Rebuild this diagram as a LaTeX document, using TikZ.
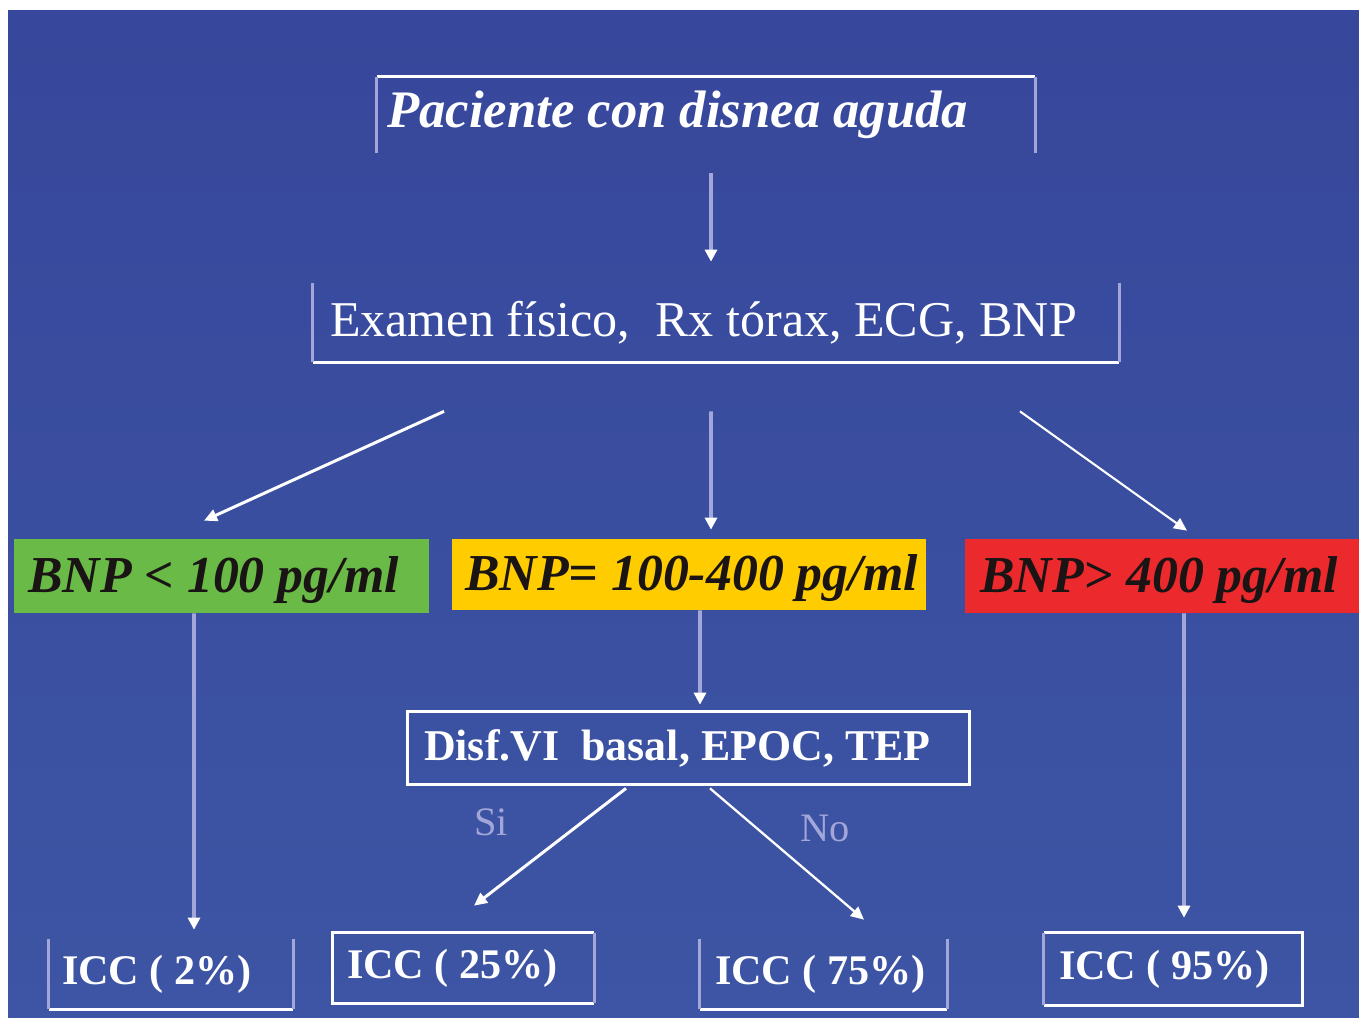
\documentclass[tikz,border=0pt]{standalone}
\usepackage{fontspec}
\setmainfont{Liberation Serif}
\usepackage{xcolor}
\usetikzlibrary{arrows.meta}
\definecolor{bgtop}{HTML}{37479B}
\definecolor{bgbot}{HTML}{3D55A4}
\definecolor{lavender}{HTML}{A3A6D9}
\definecolor{bnpgreen}{HTML}{6ABA47}
\definecolor{bnpyellow}{HTML}{FFCC00}
\definecolor{bnpred}{HTML}{EC2A2E}
\definecolor{darktext}{HTML}{1A1414}
\tikzset{
  box/.style={inner ysep=0pt, text=white},
  bnpbox/.style={box, text=darktext, inner xsep=0.28cm, text height=0.88cm},
  side/.style={draw=lavender, line width=1.6pt},
  edge/.style={draw=white, line width=1.6pt},
  varrow/.style={draw=lavender, line width=2.2pt, -{Triangle[color=white, length=0.24cm, width=0.24cm]}},
  warrow/.style={draw=white, line width=1.7pt, -{Triangle[color=white, length=0.26cm, width=0.24cm]}},
  lbl/.style={text=lavender, font=\fontsize{23}{26}\selectfont},
}
\newcommand{\bnpfont}{\fontsize{29.5}{32}\selectfont\bfseries\itshape}
\newcommand{\iccfont}{\fontsize{24}{28}\selectfont\bfseries}

\begin{document}
\begin{tikzpicture}[x=0.02cm, y=-0.02cm]
\useasboundingbox (0,0) rectangle (1359,1019);
\fill[white] (0,0) rectangle (1359,1019);
\shade[top color=bgtop, bottom color=bgbot] (8,10) rectangle (1359,1017);

\node[box, minimum width=13.16cm, minimum height=1.52cm, inner xsep=0.2cm] (top) at (706,115) {\makebox[12.76cm][l]{\fontsize{30}{36}\selectfont\bfseries\itshape Paciente con disnea aguda}};
\node[box, minimum width=16.12cm, minimum height=1.58cm, inner xsep=0.34cm] (exam) at (716,322.5) {\makebox[15.44cm][l]{\fontsize{28.5}{32}\selectfont Examen físico,\ \ Rx tórax, ECG, BNP}};

\node[bnpbox, fill=bnpgreen, minimum width=8.3cm, minimum height=1.48cm] (green) at (221.5,576) {\makebox[7.74cm][l]{\bnpfont BNP < 100 pg/ml}};
\node[bnpbox, fill=bnpyellow, minimum width=9.48cm, minimum height=1.42cm, inner xsep=0.26cm] (yellow) at (689,574.5) {\makebox[8.96cm][l]{\bnpfont BNP= 100-400 pg/ml}};
\node[bnpbox, fill=bnpred, minimum width=7.88cm, minimum height=1.48cm, inner xsep=0.3cm] (red) at (1162,576) {\makebox[7.28cm][l]{\bnpfont BNP> 400 pg/ml}};

\node[box, minimum width=11.22cm, minimum height=1.44cm, inner xsep=0.32cm] (disf) at (688.5,748) {\makebox[10.58cm][l]{\fontsize{25}{30}\selectfont\bfseries Disf.VI\ \ basal, EPOC, TEP}};

\node[box, minimum width=4.88cm, minimum height=1.4cm, inner xsep=0.26cm] (icc2) at (171,974) {\makebox[4.36cm][l]{\iccfont ICC ( 2\%)}};
\node[box, minimum width=5.22cm, minimum height=1.4cm, inner xsep=0.28cm] (icc25) at (463.5,968) {\makebox[4.66cm][l]{\iccfont ICC ( 25\%)}};
\node[box, minimum width=4.94cm, minimum height=1.4cm, inner xsep=0.3cm] (icc75) at (823.5,974) {\makebox[4.34cm][l]{\iccfont ICC ( 75\%)}};
\node[box, minimum width=5.16cm, minimum height=1.44cm, inner xsep=0.3cm] (icc95) at (1173,969) {\makebox[4.56cm][l]{\iccfont ICC ( 95\%)}};

\node[lbl] (si) at (491,822) {Si};
\node[lbl] (no) at (825,828) {No};

\draw[edge] (top.north west) -- (top.north east);
\draw[side] (top.north west) -- (top.south west);
\draw[side] (top.north east) -- (top.south east);
\draw[edge] (exam.south west) -- (exam.south east);
\draw[side] (exam.north west) -- (exam.south west);
\draw[side] (exam.north east) -- (exam.south east);
\draw[edge] (disf.south west) rectangle (disf.north east);
\draw[edge] (icc2.south west) -- (icc2.south east);
\draw[side] (icc2.north west) -- (icc2.south west);
\draw[side] (icc2.north east) -- (icc2.south east);
\draw[edge] (icc25.north east) -- (icc25.north west) -- (icc25.south west) -- (icc25.south east);
\draw[side] (icc25.north east) -- (icc25.south east);
\draw[edge] (icc75.south west) -- (icc75.south east);
\draw[side] (icc75.north west) -- (icc75.south west);
\draw[side] (icc75.north east) -- (icc75.south east);
\draw[edge] (icc95.north west) -- (icc95.north east) -- (icc95.south east) -- (icc95.south west);
\draw[side] (icc95.north west) -- (icc95.south west);

\draw[varrow, shorten <=0.4cm, shorten >=0.42cm] ([xshift=0.1cm]top.south) -- ([xshift=0.1cm]top.south |- exam.north);
\draw[warrow] ([xshift=-5.44cm, yshift=-0.98cm]exam.south) -- ([xshift=-0.35cm, yshift=0.36cm]green.north);
\draw[varrow] ([xshift=-0.1cm, yshift=-0.98cm]exam.south) -- ([xshift=0.44cm, yshift=0.18cm]yellow.north);
\draw[warrow, line width=1.2pt] ([xshift=6.08cm, yshift=-0.98cm]exam.south) -- ([xshift=0.5cm, yshift=0.16cm]red.north);
\draw[varrow] ([xshift=-0.55cm]green.south) -- ([xshift=0.46cm, yshift=0.18cm]icc2.north);
\draw[varrow] ([xshift=0.22cm]yellow.south) -- ([xshift=0.23cm, yshift=0.14cm]disf.north);
\draw[warrow] ([xshift=-1.25cm, yshift=-0.08cm]disf.south) -- ([xshift=0.21cm, yshift=0.54cm]icc25.north);
\draw[warrow, line width=1.3pt] ([xshift=0.43cm, yshift=-0.08cm]disf.south) -- ([xshift=0.81cm, yshift=0.38cm]icc75.north);
\draw[varrow] ([xshift=0.44cm]red.south) -- ([xshift=0.22cm, yshift=0.3cm]icc95.north);
\end{tikzpicture}
\end{document}
